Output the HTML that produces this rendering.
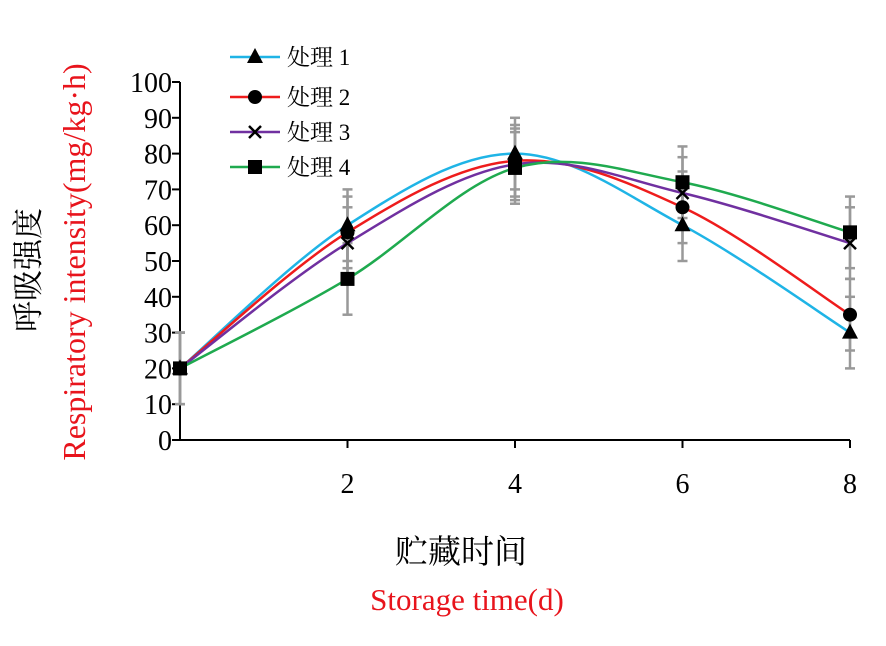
<!DOCTYPE html>
<html><head><meta charset="utf-8"><style>
body{margin:0;background:#fff}
svg text{font-family:"Liberation Serif","Noto Serif CJK SC",serif}
</style></head><body>
<svg id="c" width="886" height="641"></svg>
<script>
const days=[0,2,4,6,8];
const t1=[20,60,80,60,30];
const t2=[20,58,78,65,35];
const t3=[20,55,77,69,55];
const t4=[20,45,76,72,58];
const err1=[10,10,10,10,10];
const err2=[10,10,10,10,10];
const err3=[10,10,10,10,10];
const err4=[10,10,10,10,10];
const yTicks=[0,10,20,30,40,50,60,70,80,90,100];
const xTicks=[2,4,6,8];
const names=["处理 1","处理 2","处理 3","处理 4"];
const NS="http://www.w3.org/2000/svg";
const svg=document.getElementById('c');
const X=v=>180+v*83.75, Y=v=>440-v*3.58;
function mk(t,a,p){const e=document.createElementNS(NS,t);for(const k in a)e.setAttribute(k,a[k]);(p||svg).appendChild(e);return e;}
let ax=mk('line',{x1:180,y1:Y(100),x2:180,y2:440,stroke:'#000','stroke-width':2});


let bx=mk('line',{x1:180,y1:440,x2:X(8),y2:440,stroke:'#000','stroke-width':2});


yTicks.forEach(v=>{
 mk('line',{x1:172,y1:Y(v),x2:180,y2:Y(v),stroke:'#000','stroke-width':2});
 const t=mk('text',{x:172,y:Y(v)+10,'text-anchor':'end','font-size':28});t.textContent=v;
 
 
});
xTicks.forEach(v=>{
 mk('line',{x1:X(v),y1:440,x2:X(v),y2:448,stroke:'#000','stroke-width':2});
 const t=mk('text',{x:X(v),y:493,'text-anchor':'middle','font-size':28});t.textContent=v;
 
 
});
const series=[[t1,err1,'#1fb4e6','tri'],[t2,err2,'#ee1c1c','circ'],[t3,err3,'#7030a0','x'],[t4,err4,'#1faa4f','sq']];
series.forEach(([d,e],si)=>{d.forEach((v,i)=>{
 const x=X(days[i]);
 const g=mk('g',{stroke:'#999','stroke-width':2.5});
 
 
 mk('line',{x1:x,y1:Y(v+e[i]),x2:x,y2:Y(v-e[i])},g);
 mk('line',{x1:x-5,y1:Y(v+e[i]),x2:x+5,y2:Y(v+e[i])},g);
 mk('line',{x1:x-5,y1:Y(v-e[i]),x2:x+5,y2:Y(v-e[i])},g);
});});
function smooth(pts){let d=`M${pts[0][0]},${pts[0][1]}`;
 for(let i=0;i<pts.length-1;i++){const p0=pts[i-1]||pts[i],p1=pts[i],p2=pts[i+1],p3=pts[i+2]||p2;
 d+=` C${p1[0]+(p2[0]-p0[0])/6},${p1[1]+(p2[1]-p0[1])/6} ${p2[0]-(p3[0]-p1[0])/6},${p2[1]-(p3[1]-p1[1])/6} ${p2[0]},${p2[1]}`;}
 return d;}
function marker(type,x,y,p){
 if(type==='tri')return mk('polygon',{points:`${x},${y-9} ${x-8},${y+6} ${x+8},${y+6}`,fill:'#000'},p);
 if(type==='circ')return mk('circle',{cx:x,cy:y,r:7,fill:'#000'},p);
 if(type==='sq')return mk('rect',{x:x-7,y:y-7,width:14,height:14,fill:'#000'},p);
 const g=mk('g',{stroke:'#000','stroke-width':2.5},p);
 mk('line',{x1:x-6,y1:y-6,x2:x+6,y2:y+6},g);mk('line',{x1:x-6,y1:y+6,x2:x+6,y2:y-6},g);return g;}
series.forEach(([d,e,col,m],si)=>{
 const g=mk('g',{});
 
 
 const pts=d.map((v,i)=>[X(days[i]),Y(v)]);
 mk('path',{d:smooth(pts),fill:'none',stroke:col,'stroke-width':2.5},g);
 pts.forEach(p=>{const mm=marker(m,p[0],p[1],g);
  
  });
 const ly=[57,97,132,167][si];
 const lg=mk('g',{});
 
 
 mk('line',{x1:230,y1:ly,x2:280,y2:ly,stroke:col,'stroke-width':2.5},lg);
 marker(m,255,ly,lg);
 const t=mk('text',{x:287,y:ly+8,'font-size':23},lg);t.textContent=names[si];
});
let t=mk('text',{x:461,y:563,'text-anchor':'middle','font-size':33});t.textContent='贮藏时间';


t=mk('text',{x:467,y:610,'text-anchor':'middle','font-size':31,fill:'#e8141c'});t.textContent='Storage time(d)';


t=mk('text',{x:0,y:0,'text-anchor':'middle','font-size':31,transform:'translate(39,270) rotate(-90)'});t.textContent='呼吸强度';


t=mk('text',{x:0,y:0,'text-anchor':'middle','font-size':32,fill:'#e8141c',transform:'translate(85,262) rotate(-90)'});t.textContent='Respiratory  intensity(mg/kg·h)';


</script>
</body></html>
